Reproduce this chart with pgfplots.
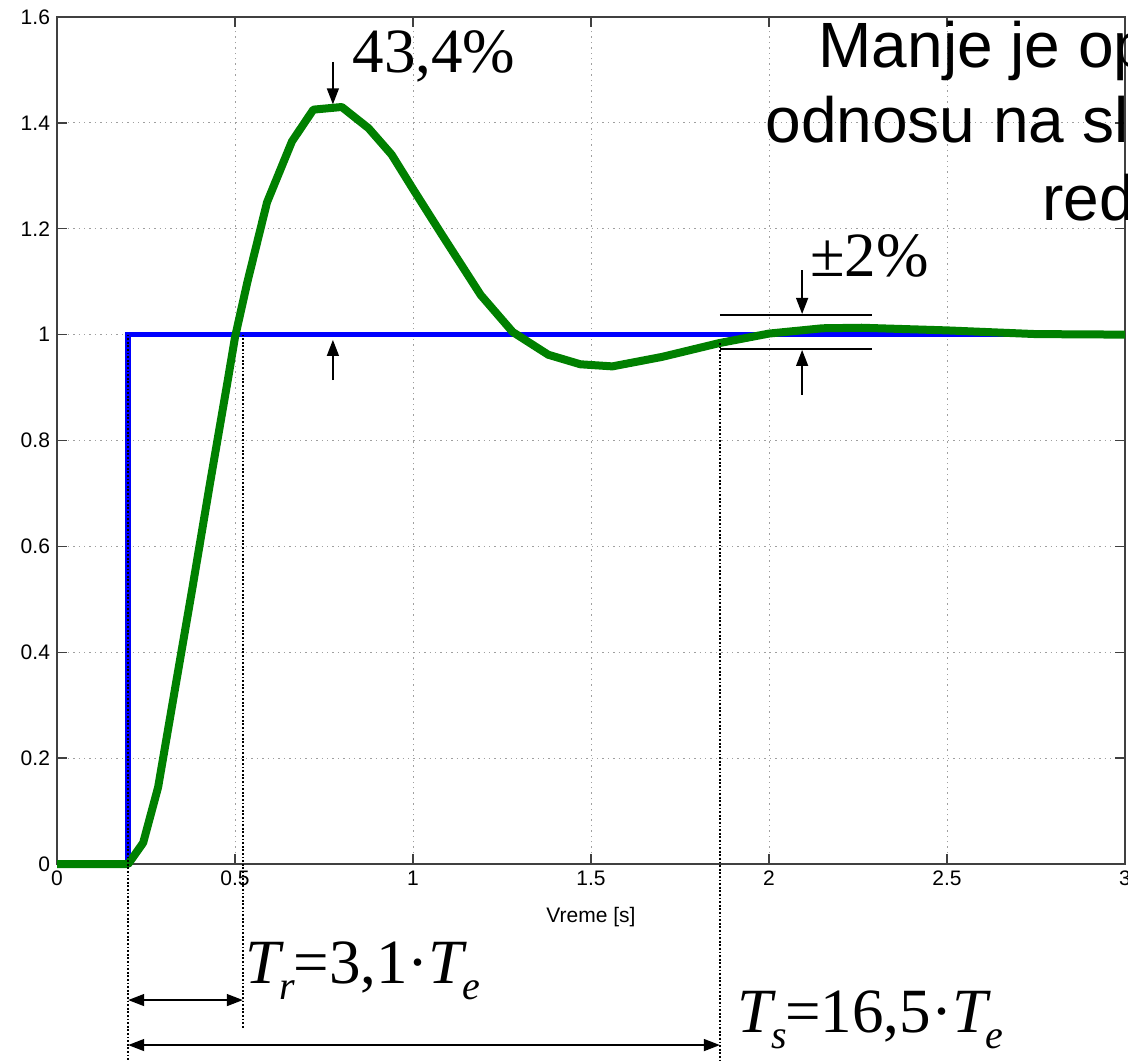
\documentclass[border=0pt]{standalone}
\usepackage{pgfplots}
\pgfplotsset{compat=1.18}
\usepackage{fontspec}
\setmainfont{Liberation Sans}
\newfontfamily\timesf{Liberation Serif}
\usetikzlibrary{arrows.meta}
\definecolor{mgreen}{rgb}{0,0.5,0}
\begin{document}
\begin{tikzpicture}
\begin{axis}[
  at={(0,0)}, anchor=south west, scale only axis,
  width=534pt, height=423.5pt,
  xmin=0, xmax=3, ymin=0, ymax=1.6,
  xtick={0,0.5,1,1.5,2,2.5,3},
  ytick={0,0.2,0.4,0.6,0.8,1,1.2,1.4,1.6},
  yticklabels={0,0.2,0.4,0.6,0.8,1,1.2,1.4,1.6},
  xticklabels={0,0.5,1,1.5,2,2.5,3},
  grid=major,
  major grid style={gray!75, dash pattern=on 0.7pt off 2pt, line width=0.5pt},
  tick align=inside, major tick length=5pt,
  axis line style={black!75, line width=0.7pt},
  tick style={black!75, line width=0.7pt},
  ticklabel style={font=\fontsize{10.5}{12}\selectfont},
  /pgf/number format/assume math mode=true,
  xlabel={Vreme [s]},
  xlabel style={font=\fontsize{10.5}{12}\selectfont, at={(axis description cs:0.5,0)}, anchor=base, yshift=-29pt},
  clip=false,
]
\addplot[blue, line width=2.8pt, line join=miter] coordinates {(0,0) (0.2,0) (0.2,1) (3,1)};
\addplot[mgreen, line width=4pt, line join=round] table {
0 0
0.2 0
0.242 0.04
0.284 0.145
0.33 0.325
0.38 0.52
0.43 0.72
0.48 0.915
0.5 0.995
0.535 1.10
0.59 1.25
0.66 1.365
0.72 1.425
0.80 1.43
0.875 1.39
0.94 1.34
1.00 1.275
1.08 1.19
1.19 1.075
1.28 1.005
1.38 0.962
1.47 0.944
1.56 0.94
1.70 0.958
1.86 0.984
2.0 1.002
2.15 1.012
2.26 1.013
2.5 1.008
2.75 1.001
3.0 1.0
};
% annotations
\draw[line width=0.7pt, -{Triangle[length=8pt,width=6pt]}] (axis cs:0.775,1.515) -- (axis cs:0.775,1.435);
\draw[line width=0.7pt, -{Triangle[length=8pt,width=6pt]}] (axis cs:0.775,0.914) -- (axis cs:0.775,0.99);
\node[anchor=base west, inner sep=0pt, font=\timesf\fontsize{31.5}{31.5}\selectfont] at (axis cs:0.829,1.496) {43,4\%};
\draw[line width=0.6pt] (axis cs:1.862,1.037) -- (axis cs:2.289,1.037);
\draw[line width=0.6pt] (axis cs:1.862,0.973) -- (axis cs:2.289,0.973);
\draw[line width=0.7pt, -{Triangle[length=8pt,width=6pt]}] (axis cs:2.093,1.122) -- (axis cs:2.093,1.039);
\draw[line width=0.7pt, -{Triangle[length=8pt,width=6pt]}] (axis cs:2.093,0.886) -- (axis cs:2.093,0.971);
\node[anchor=base west, inner sep=0pt, font=\timesf\fontsize{31.5}{31.5}\selectfont] at (axis cs:2.115,1.109) {±2\%};
\draw[line width=1pt, dash pattern=on 0.9pt off 0.9pt] (axis cs:0.2,1) -- (axis cs:0.2,-0.372);
\draw[line width=1pt, dash pattern=on 0.9pt off 0.9pt] (axis cs:0.522,1) -- (axis cs:0.522,-0.31);
\draw[line width=1pt, dash pattern=on 0.9pt off 0.9pt] (axis cs:1.862,0.984) -- (axis cs:1.862,-0.372);
\draw[line width=0.7pt, {Triangle[length=8pt,width=6pt]}-{Triangle[length=8pt,width=6pt]}] (axis cs:0.2,-0.257) -- (axis cs:0.522,-0.257);
\draw[line width=0.7pt, {Triangle[length=8pt,width=6pt]}-{Triangle[length=8pt,width=6pt]}] (axis cs:0.2,-0.342) -- (axis cs:1.862,-0.342);
\node[anchor=base west, inner sep=0pt, font=\timesf\fontsize{31.5}{31.5}\selectfont] at (axis cs:0.528,-0.225)
  {\textit{T}\kern-0.08em\raisebox{-8pt}{\fontsize{20}{20}\selectfont\textit{r}}\kern-0.02em=3,1·\textit{T}\kern-0.08em\raisebox{-8pt}{\fontsize{20}{20}\selectfont\textit{e}}};
\node[anchor=base west, inner sep=0pt, font=\timesf\fontsize{31.5}{31.5}\selectfont] at (axis cs:1.91,-0.319)
  {\textit{T}\kern-0.08em\raisebox{-8pt}{\fontsize{20}{20}\selectfont\textit{s}}\kern-0.02em=16,5·\textit{T}\kern-0.08em\raisebox{-8pt}{\fontsize{20}{20}\selectfont\textit{e}}};
\node[anchor=base west, inner sep=0pt, font=\fontsize{32}{32}\selectfont] at (axis cs:2.138,1.504) {Manje je op};
\node[anchor=base west, inner sep=0pt, font=\fontsize{32}{32}\selectfont] at (axis cs:1.989,1.362) {odnosu na sl};
\node[anchor=base west, inner sep=0pt, font=\fontsize{32}{32}\selectfont] at (axis cs:2.767,1.216) {red};
\end{axis}
\pgfresetboundingbox
\path[use as bounding box] (-28.5pt,-98.5pt) rectangle (535.5pt,432pt);
\end{tikzpicture}
\end{document}
